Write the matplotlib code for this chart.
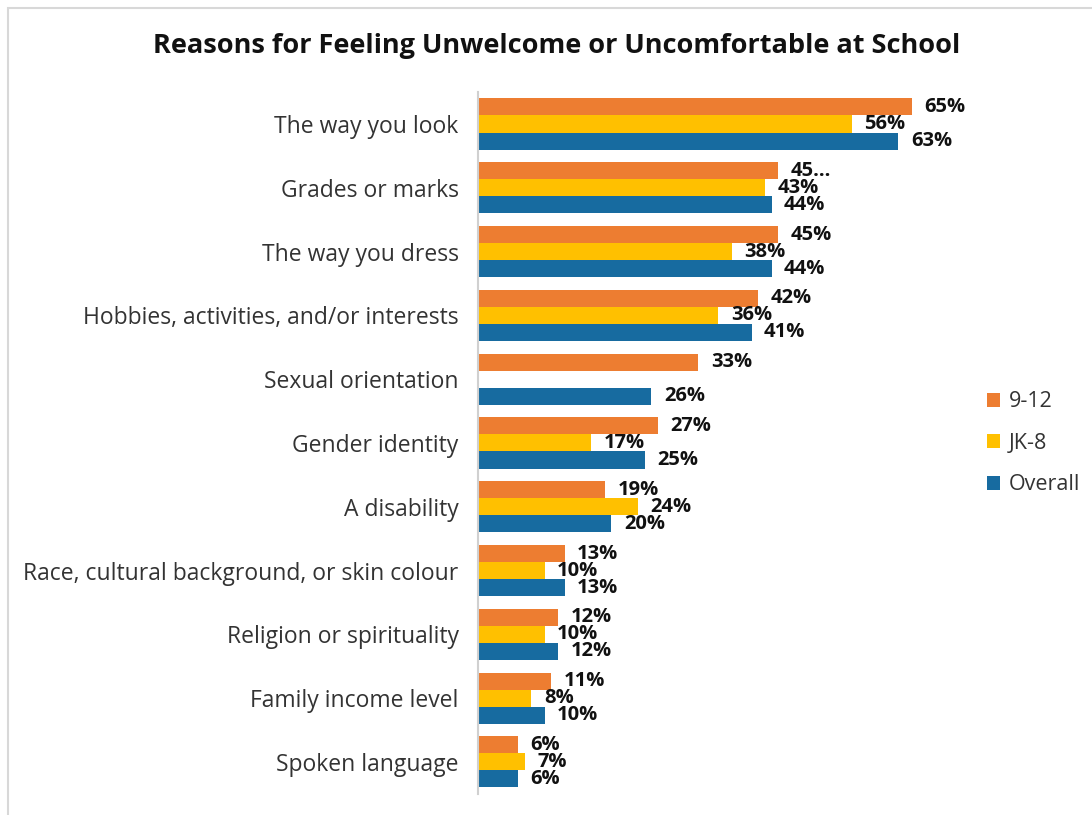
import numpy as np
import matplotlib
matplotlib.use("Agg")
import matplotlib.pyplot as plt
from matplotlib.patches import Rectangle

categories = [
    "The way you look",
    "Grades or marks",
    "The way you dress",
    "Hobbies, activities, and/or interests",
    "Sexual orientation",
    "Gender identity",
    "A disability",
    "Race, cultural background, or skin colour",
    "Religion or spirituality",
    "Family income level",
    "Spoken language",
]
grade_9_12 = [65, 45, 45, 42, 33, 27, 19, 13, 12, 11, 6]
grade_jk_8 = [56, 43, 38, 36, np.nan, 17, 24, 10, 10, 8, 7]
overall = [63, 44, 44, 41, 26, 25, 20, 13, 12, 10, 6]
# labels as printed on the chart (Excel truncated one of them)
labels_9_12 = ["65%", "45…", "45%", "42%", "33%", "27%", "19%", "13%", "12%", "11%", "6%"]

series = [
    ("9-12", grade_9_12, "#ED7D31"),
    ("JK-8", grade_jk_8, "#FFC000"),
    ("Overall", overall, "#176BA0"),
]

plt.rcParams["font.family"] = ["Open Sans", "DejaVu Sans"]

fig = plt.figure(figsize=(10.92, 8.15), dpi=100)
ax = fig.add_axes([0.4377, 0.026, 0.44, 0.861])

y = np.arange(len(categories))
h = 0.267
for i, (name, vals, color) in enumerate(series):
    vals = np.asarray(vals, dtype=float)
    pos = y + (i - 1) * h
    ax.barh(pos, vals, height=h, color=color, label=name)
    texts = labels_9_12 if i == 0 else [f"{v:.0f}%" for v in vals]
    for p, v, t in zip(pos, vals, texts):
        if np.isnan(v):
            continue
        ax.annotate(t, (v, p), xytext=(9, 0), textcoords="offset points",
                    ha="left", va="center", fontsize=14.5, fontweight="bold",
                    color="#111111")

ax.set_ylim(len(categories) - 0.5, -0.5)
ax.set_xlim(0, 72)
ax.set_yticks(y)
ax.set_yticklabels(categories, fontsize=16.5, color="#333333")
ax.tick_params(axis="y", length=0, pad=14)
ax.set_xticks([])
for s in ["top", "right", "bottom"]:
    ax.spines[s].set_visible(False)
ax.spines["left"].set_color("#d0d0d0")
ax.spines["left"].set_linewidth(1.5)

fig.text(0.51, 0.943, "Reasons for Feeling Unwelcome or Uncomfortable at School",
         ha="center", va="center", fontsize=19.5, fontweight="bold", color="#111111")

leg = fig.legend(loc="center left", bbox_to_anchor=(0.886, 0.456), frameon=False,
                 fontsize=15.5, handlelength=0.6, handleheight=0.6, handletextpad=0.4,
                 labelspacing=0.95, labelcolor="#333333")

fig.patches.append(Rectangle((0.007, -0.1), 1.2, 1.09, transform=fig.transFigure,
                             fill=False, edgecolor="#d8d8d8", linewidth=1.5))

fig.savefig("out.png", dpi=100)
